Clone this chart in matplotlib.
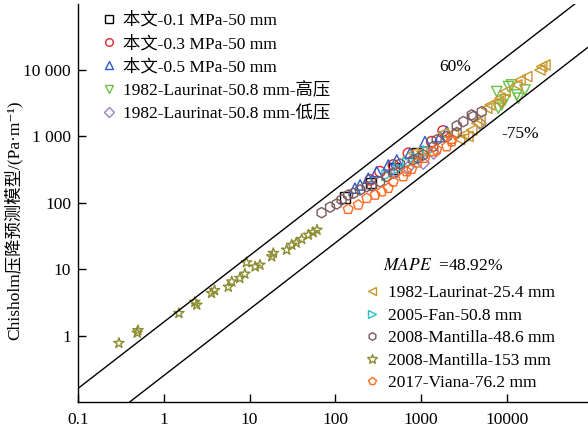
import numpy as np
import matplotlib
matplotlib.use('Agg')
from matplotlib import pyplot as plt
from matplotlib.lines import Line2D

plt.rcParams['font.family'] = ['Liberation Serif', 'Noto Sans CJK SC', 'DejaVu Serif']
plt.rcParams['mathtext.fontset'] = 'stix'
plt.rcParams['axes.unicode_minus'] = False

own_01_x = [130, 260, 480, 900]
own_01_y = [120, 200, 330, 560]
own_03_x = [255, 331, 473, 708, 1325, 1800]
own_03_y = [221, 295, 372, 558, 835, 1210]
own_05_x = [169, 194, 242, 303, 414, 519, 740, 1107, 1656, 1983]
own_05_y = [166, 186, 235, 295, 372, 442, 558, 835, 993, 1180]
laur_hi_x = [7590, 10400, 11300, 16200, 13000, 13600, 7920, 8670, 9480]
laur_hi_y = [4730, 5620, 5970, 5010, 4220, 3760, 2660, 2980, 3550]
laur_lo_x = [519, 700, 1058, 1400, 4840]
laur_lo_y = [295, 340, 395, 560, 1580]
laur_25_x = [25400, 27700, 24200, 17000, 14200, 13000, 9480, 8280, 7920, 6340,
             5800, 4840, 4430, 3880, 3100, 2370, 1810, 809, 1014, 2800, 3500]
laur_25_y = [11250, 11900, 10000, 7960, 7100, 5970, 4730, 3760, 3340, 2980,
             2660, 1770, 1580, 1250, 1050, 1120, 1120, 558, 590, 900, 1000]
fan_x = [400, 556, 700, 900, 1200]
fan_y = [260, 332, 400, 470, 600]
mant48_x = [69, 86.5, 103.5, 118, 141, 162, 194, 232, 265, 331, 396, 473, 566,
            809, 925, 1058, 1383, 1515, 1983, 2593, 2593, 3100, 3880, 4040, 5070]
mant48_y = [71, 86, 96, 111, 131, 139, 156, 175, 180, 208, 248, 279, 385,
            443, 470, 527, 702, 885, 993, 1140, 1440, 1670, 2110, 1990, 2360]
mant153_x = [0.30, 0.49, 0.50, 1.50, 2.42, 2.3, 3.6, 3.9, 5.65, 6.2, 7.7, 8.8,
             9.2, 11.6, 13.2, 18.1, 18.9, 27, 31, 40.5, 48.4, 61, 55, 35]
mant153_y = [0.77, 1.1, 1.2, 2.17, 2.9, 3.2, 4.35, 4.8, 5.4, 6.5, 7.3, 8.5,
             12.6, 10.9, 11.6, 15.5, 17.4, 19.5, 23.2, 28.3, 32.8, 39, 36, 25]
viana_x = [141, 185, 232, 290, 347, 414, 473, 618, 677, 775, 1383, 1515, 1983,
           2265, 2265, 900, 1100]
viana_y = [80, 93, 117, 131, 147, 166, 208, 248, 295, 321, 590, 626, 702,
           835, 908, 400, 470]

series = [
    ('本文-0.1 MPa-50 mm', own_01_x, own_01_y, 's', '#000000'),
    ('本文-0.3 MPa-50 mm', own_03_x, own_03_y, 'o', '#e8262a'),
    ('本文-0.5 MPa-50 mm', own_05_x, own_05_y, '^', '#2a5cc8'),
    ('1982-Laurinat-50.8 mm-高压', laur_hi_x, laur_hi_y, 'v', '#6cc04a'),
    ('1982-Laurinat-50.8 mm-低压', laur_lo_x, laur_lo_y, 'D', '#9a80c0'),
    ('1982-Laurinat-25.4 mm', laur_25_x, laur_25_y, '<', '#c8962a'),
    ('2005-Fan-50.8 mm', fan_x, fan_y, '>', '#2ac0c8'),
    ('2008-Mantilla-48.6 mm', mant48_x, mant48_y, 'h', '#7a5a5e'),
    ('2008-Mantilla-153 mm', mant153_x, mant153_y, '*', '#8c8c30'),
    ('2017-Viana-76.2 mm', viana_x, viana_y, 'p', '#ff6a20'),
]

upper_factor = 1.6   # +60 %
lower_factor = 0.25  # -75 %
fs = 12.5

W, H = 588, 432
fig = plt.figure(figsize=(W / 100, H / 100), dpi=100)
ax = fig.add_axes([78 / W, 1 - 402 / H, 514.8 / W, 398.4 / H])

line_x = np.array([0.1, 1e5])
ax.plot(line_x, upper_factor * line_x, color='black', lw=1.0)
ax.plot(line_x, lower_factor * line_x, color='black', lw=1.0)

handles = []
for label, xs, ys, mk, col in series:
    size = 60 if mk == '*' else 55
    if mk == 'D':
        size = 38
    ax.scatter(xs, ys, s=size, marker=mk, facecolors='none', edgecolors=col,
               linewidths=1.0)
    handles.append(Line2D([], [], ls='none', marker=mk, mfc='none', mec=col,
                          mew=1.0, ms=7 if mk == '*' else 5.5, label=label))

ax.set_xscale('log')
ax.set_yscale('log')
ax.set_xlim(0.1, 1e5)
ax.set_ylim(0.1, 1e5)

ax.set_xticks([0.1, 1, 10, 100, 1000, 10000])
ax.set_xticklabels(['0.1', '1', '10', '100', '1000', '10000'])
ax.set_yticks([1, 10, 100, 1000, 10000])
ax.set_yticklabels(['1', '10', '100', '1 000', '10 000'])
ax.minorticks_off()
ax.tick_params(direction='in', length=6, width=1.0, labelsize=fs)
ax.tick_params(axis='x', pad=7)
ax.tick_params(axis='y', pad=5)
for side in ['top', 'right']:
    ax.spines[side].set_visible(False)
for side in ['left', 'bottom']:
    ax.spines[side].set_linewidth(1.0)

ax.set_ylabel('Chisholm压降预测模型/(Pa·m⁻¹)', fontsize=fs)
ax.yaxis.set_label_coords(-0.108, 0.457)
ax.set_xlabel('压降实验值/(Pa·m⁻¹)', fontsize=fs)
ax.xaxis.set_label_coords(0.408, -0.095)

ax.text(2480, 11100, '60%', fontsize=fs, ha='center', va='center')
ax.text(14200, 1100, '-75%', fontsize=fs, ha='center', va='center')
ax.text(359, 11.2, r'$\mathit{MAPE}$  =48.92%', fontsize=fs, ha='left',
        va='center')

leg1 = ax.legend(handles=handles[:5], loc='upper left',
                 bbox_to_anchor=(102 / W, 1 - 12 / H),
                 bbox_transform=fig.transFigure, frameon=False, fontsize=fs,
                 handlelength=0.8, handletextpad=0.41, labelspacing=0.39,
                 borderpad=0, borderaxespad=0)
ax.add_artist(leg1)
ax.legend(handles=handles[5:], loc='upper left',
          bbox_to_anchor=(365 / W, 1 - 285 / H),
          bbox_transform=fig.transFigure, frameon=False, fontsize=fs,
          handlelength=0.8, handletextpad=0.52, labelspacing=0.37,
          borderpad=0, borderaxespad=0)

fig.savefig('out.png', dpi=100)
